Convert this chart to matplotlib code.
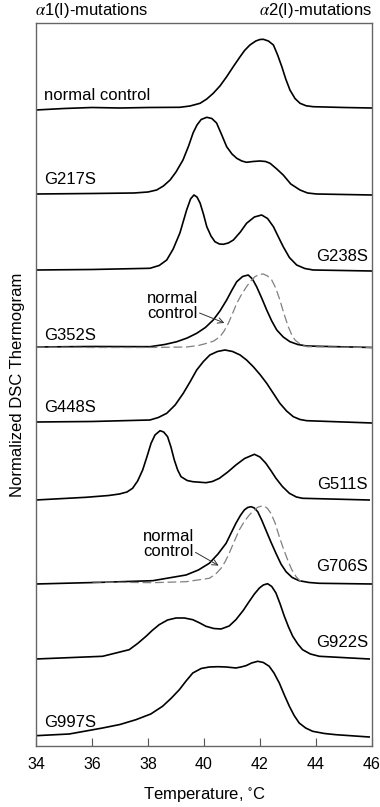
import matplotlib
matplotlib.use('Agg')
import matplotlib.pyplot as plt

plt.rcParams['font.family'] = ['Liberation Sans', 'DejaVu Sans']
plt.rcParams['mathtext.fontset'] = 'stix'

# temperatures (C) and heights above each trace's own baseline (arbitrary units)
ctrl_t = [34.0, 35.0, 36.0, 37.0, 38.0, 39.14, 39.5, 39.86, 40.1, 40.33, 40.57, 40.81, 41.05, 41.29, 41.45, 41.64, 41.85, 42.0, 42.12,
          42.3, 42.48, 42.63, 42.78, 42.92, 43.07, 43.25, 43.43, 43.65, 43.9, 45.0, 46.0]
ctrl_h = [-0.2, -0.05, 0.05, 0.0, 0.05, 0.07, 0.2, 0.47, 0.9, 1.47, 2.2, 3.13, 4.15, 5.13, 5.75, 6.3, 6.7, 6.85, 6.87,
          6.7, 6.3, 5.3, 4.13, 2.9, 1.8, 0.95, 0.47, 0.22, 0.13, 0.05, 0.0]

g217_t = [34.0, 36.0, 37.5, 38.0, 38.31, 38.55, 38.79, 39.0, 39.25, 39.45, 39.61, 39.75, 39.9, 40.1, 40.28, 40.45, 40.62, 40.81,
          41.0, 41.17, 41.35, 41.52, 41.75, 42.0, 42.2, 42.36, 42.6, 42.83, 43.1, 43.43, 43.7, 44.02, 46.0]
g217_h = [0.0, 0.05, 0.1, 0.2, 0.4, 0.8, 1.4, 2.2, 3.4, 4.8, 6.1, 6.9, 7.45, 7.67, 7.55, 7.1, 6.0, 4.73,
          4.0, 3.57, 3.3, 3.17, 3.25, 3.3, 3.25, 3.07, 2.5, 1.9, 1.0, 0.4, 0.1, 0.0, -0.1]

g238_t = [34.0, 36.0, 38.07, 38.4, 38.67, 38.9, 39.14, 39.38, 39.52, 39.64, 39.75, 39.86, 39.98, 40.1, 40.25, 40.39, 40.55, 40.69,
          40.87, 41.05, 41.3, 41.52, 41.8, 42.06, 42.27, 42.48, 42.65, 42.83, 43.05, 43.31, 43.6, 43.9, 46.0]
g238_h = [0.0, 0.05, 0.17, 0.45, 1.0, 2.1, 3.7, 6.0, 7.1, 7.5, 7.3, 6.7, 5.6, 4.33, 3.4, 2.83, 2.6, 2.57,
          2.7, 3.0, 3.8, 4.67, 5.3, 5.5, 5.15, 4.33, 3.35, 2.33, 1.25, 0.5, 0.15, 0.0, -0.1]

g352_t = [34.0, 36.0, 38.07, 38.6, 39.03, 39.4, 39.74, 40.05, 40.33, 40.57, 40.81, 41.0, 41.17, 41.38, 41.58, 41.73, 41.88,
          42.06, 42.24, 42.42, 42.6, 42.83, 43.07, 43.35, 43.67, 46.0]
g352_h = [0.0, 0.05, 0.03, 0.25, 0.53, 0.9, 1.37, 1.95, 2.7, 3.6, 4.7, 5.7, 6.53, 7.05, 7.2, 6.8, 6.03,
          4.9, 3.7, 2.6, 1.7, 1.0, 0.53, 0.25, 0.1, -0.05]

ref352_t = [34.0, 36.0, 38.0, 39.38, 39.8, 40.1, 40.35, 40.57, 40.72, 40.87, 41.02, 41.17, 41.35, 41.52, 41.67, 41.82, 41.97,
            42.12, 42.27, 42.42, 42.57, 42.71, 42.86, 43.01, 43.13, 43.25, 43.45, 43.67, 46.0]
ref352_h = [0.0, -0.05, -0.05, 0.0, 0.15, 0.37, 0.6, 1.03, 1.6, 2.37, 3.35, 4.37, 5.3, 6.03, 6.6, 7.03, 7.25,
            7.3, 7.1, 6.7, 5.85, 4.7, 3.3, 2.03, 1.25, 0.7, 0.25, 0.03, -0.05]

g448_t = [34.0, 36.0, 38.07, 38.37, 38.67, 38.97, 39.26, 39.5, 39.74, 39.98, 40.21, 40.48, 40.75, 41.02, 41.29, 41.52, 41.76,
          42.0, 42.24, 42.48, 42.71, 42.95, 43.19, 43.43, 43.67, 46.0]
g448_h = [0.0, 0.05, 0.2, 0.45, 0.87, 1.7, 2.87, 4.0, 5.2, 6.05, 6.7, 7.05, 7.2, 7.05, 6.7, 6.2, 5.53,
          4.75, 3.87, 2.85, 1.87, 1.1, 0.53, 0.25, 0.13, -0.1]

g511_t = [34.0, 35.79, 36.6, 36.98, 37.25, 37.45, 37.63, 37.81, 37.96, 38.11, 38.25, 38.43, 38.56, 38.7, 38.82, 38.94, 39.06,
          39.18, 39.4, 39.6, 40.07, 40.3, 40.55, 40.85, 41.14, 41.45, 41.8, 42.0, 42.21, 42.4, 42.57, 42.8, 43.05, 43.3, 43.52, 45.9]
g511_h = [0.0, 0.27, 0.45, 0.6, 0.8, 1.17, 1.9, 3.0, 4.3, 5.67, 6.5, 6.93, 6.8, 6.33, 5.3, 4.0, 3.0,
          2.33, 1.95, 1.83, 1.73, 1.85, 2.17, 2.8, 3.5, 4.15, 4.57, 4.3, 3.67, 2.9, 2.17, 1.35, 0.67, 0.3, 0.17, 0.0]

g706_t = [34.0, 36.38, 38.17, 39.36, 39.8, 40.19, 40.5, 40.79, 40.97, 41.14, 41.3, 41.44, 41.56, 41.68, 41.8, 41.92, 42.06,
          42.21, 42.39, 42.57, 42.75, 42.93, 43.15, 43.4, 43.75, 44.12, 46.0]
g706_h = [0.0, 0.17, 0.33, 0.9, 1.4, 2.07, 3.0, 4.07, 5.1, 6.07, 6.85, 7.4, 7.65, 7.73, 7.6, 7.23, 6.4,
          5.4, 4.2, 3.07, 2.0, 1.23, 0.65, 0.33, 0.15, 0.07, 0.0]

ref706_t = [36.02, 38.17, 39.36, 40.19, 40.42, 40.61, 40.76, 40.9, 41.08, 41.26, 41.44, 41.62, 41.77, 41.92, 42.04, 42.15,
            42.27, 42.39, 42.54, 42.69, 42.84, 42.99, 43.14, 43.29, 43.4, 43.52]
ref706_h = [0.2, 0.13, 0.23, 0.57, 1.0, 1.57, 2.25, 3.07, 4.25, 5.4, 6.25, 6.9, 7.35, 7.67, 7.78, 7.8,
            7.55, 7.07, 6.1, 4.73, 3.5, 2.4, 1.4, 0.73, 0.4, 0.17]

g922_t = [34.0, 36.38, 37.33, 37.63, 37.93, 38.15, 38.4, 38.7, 39.0, 39.3, 39.6, 39.85, 40.07, 40.35, 40.61, 40.9, 41.14,
          41.4, 41.62, 41.8, 41.98, 42.12, 42.27, 42.42, 42.57, 42.72, 42.87, 43.02, 43.17, 43.35, 43.52, 43.8, 44.12, 45.9]
g922_h = [0.0, 0.27, 0.93, 1.55, 2.27, 2.85, 3.43, 3.9, 4.1, 4.1, 3.93, 3.6, 3.27, 3.05, 3.0, 3.3, 3.93,
          4.85, 5.77, 6.5, 7.1, 7.4, 7.53, 7.25, 6.6, 5.5, 4.27, 3.2, 2.27, 1.5, 0.93, 0.5, 0.27, 0.0]

g997_t = [34.0, 35.19, 36.38, 37.0, 37.57, 38.1, 38.52, 38.82, 39.12, 39.36, 39.6, 39.9, 40.19, 40.5, 40.79, 40.97, 41.14,
          41.32, 41.5, 41.7, 41.92, 42.12, 42.33, 42.5, 42.69, 42.87, 43.05, 43.22, 43.4, 43.63, 43.88, 44.3, 44.71, 45.9]
g997_h = [0.13, 0.3, 0.9, 1.25, 1.73, 2.3, 3.07, 3.85, 4.73, 5.6, 6.4, 6.85, 7.0, 7.03, 7.0, 6.95, 6.9,
          7.0, 7.13, 7.4, 7.57, 7.45, 7.07, 6.4, 5.4, 4.2, 3.07, 2.15, 1.4, 0.9, 0.57, 0.35, 0.23, 0.0]

names = ['normal control', 'G217S', 'G238S', 'G352S', 'G448S', 'G511S', 'G706S', 'G922S', 'G997S']
temps = [ctrl_t, g217_t, g238_t, g352_t, g448_t, g511_t, g706_t, g922_t, g997_t]
heights = [ctrl_h, g217_h, g238_h, g352_h, g448_h, g511_h, g706_h, g922_h, g997_h]
offsets = [63.8, 55.2, 47.6, 39.9, 32.4, 24.6, 16.2, 8.7, 0.9]
# label side: alpha1 mutations on the left, alpha2 on the right
sides = ['left', 'left', 'right', 'left', 'left', 'right', 'right', 'right', 'left']
label_y = [65.0, 56.6, 48.9, 41.0, 33.8, 26.1, 17.9, 10.3, 2.3]

fig = plt.figure(figsize=(3.8, 8.07), dpi=100)
ax = fig.add_axes([0.0947, 0.0756, 0.8842, 0.8959])

for t, h, off, name, side, ly in zip(temps, heights, offsets, names, sides, label_y):
    ax.plot(t, [v + off for v in h], color='black', lw=1.2)
    if side == 'left':
        ax.text(34.3, ly, name, fontsize=12, ha='left', va='center')
    else:
        ax.text(45.85, ly, name, fontsize=12, ha='right', va='center')

# dashed normal control overlays
ax.plot(ref352_t, [v + offsets[3] for v in ref352_h], color='#808080', lw=0.9, dashes=(7, 3))
ax.plot(ref706_t, [v + offsets[6] for v in ref706_h], color='#808080', lw=0.9, dashes=(7, 3))

ax.text(37.96, 44.0, 'normal\ncontrol', fontsize=12, ha='left', va='center', linespacing=1.0)
ax.annotate('', xy=(40.82, 42.2), xytext=(39.75, 43.4),
            arrowprops=dict(arrowstyle='->', color='#333333', lw=0.7))
ax.text(37.82, 20.2, 'normal\ncontrol', fontsize=12, ha='left', va='center', linespacing=1.0)
ax.annotate('', xy=(40.61, 17.9), xytext=(39.61, 19.5),
            arrowprops=dict(arrowstyle='->', color='#333333', lw=0.7))

ax.set_xlim(34, 46)
ax.set_ylim(0, 72.3)
ax.set_xticks([34, 36, 38, 40, 42, 44, 46])
ax.set_yticks([])
ax.tick_params(axis='x', direction='in', length=6, labelsize=11.5, pad=8, color='#555555')
for s in ax.spines.values():
    s.set_color('#666666')
    s.set_linewidth(1.0)

ax.set_xlabel('Temperature, $^{\\circ}$C', fontsize=12, labelpad=9)
ax.set_ylabel('Normalized DSC Thermogram', fontsize=12, labelpad=8)

fig.text(35 / 380, 1 - 10 / 807, r'$\alpha$1(I)-mutations', fontsize=12, ha='left', va='center')
fig.text(372 / 380, 1 - 10 / 807, r'$\alpha$2(I)-mutations', fontsize=12, ha='right', va='center')

plt.savefig('out.png', dpi=100)
plt.close('all')
